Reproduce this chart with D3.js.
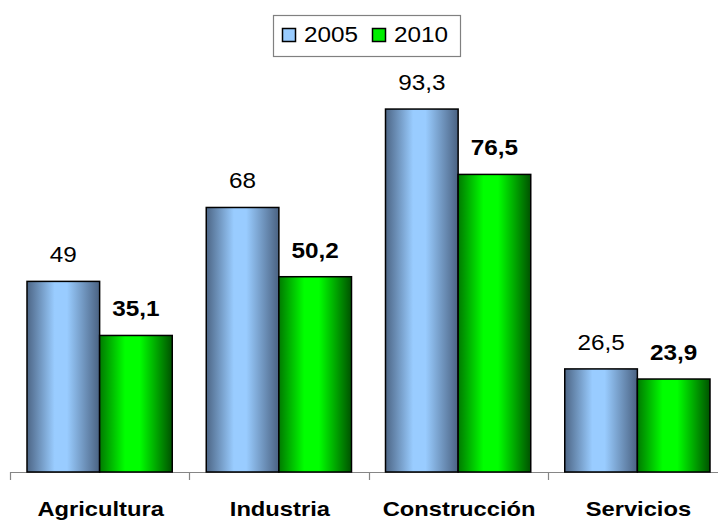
<!DOCTYPE html>
<html lang="es">
  <head>
    <meta charset="utf-8">
    <script src="https://cdn.jsdelivr.net/npm/d3@7"></script>
    <style>
      body { margin: 0; background: #fff; }
      svg { display: block; }
      text { font-family: "Liberation Sans", Arial, sans-serif; fill: #000; }
    </style>
  </head>
  <body>
    <svg id="chart"></svg>
  </body>
  <script>
    var categories = ["Agricultura", "Industria", "Construcción", "Servicios"];
    var series = ["2005", "2010"];
    var values2005 = [49, 68, 93.3, 26.5];
    var values2010 = [35.1, 50.2, 76.5, 23.9];
    var labels2005 = ["49", "68", "93,3", "26,5"];
    var labels2010 = ["35,1", "50,2", "76,5", "23,9"];

    var width = 718, height = 521;
    var stretch = 1.13; // text in the picture is a bit wider than it is tall

    var svg = d3.select("#chart").attr("width", width).attr("height", height);

    // gradients
    var defs = svg.append("defs");
    var grads = [
      {id: "g2005", stops: [[0, "#4d6686"], [0.38, "#99ccff"], [0.55, "#99ccff"], [1, "#4a6282"]]},
      {id: "g2010", stops: [[0, "#007a00"], [0.35, "#00ff00"], [0.55, "#00ff00"], [1, "#005200"]]}
    ];
    grads.forEach(function(g) {
      var lg = defs.append("linearGradient").attr("id", g.id)
        .attr("x1", "0%").attr("x2", "100%").attr("y1", "0%").attr("y2", "0%");
      g.stops.forEach(function(s) {
        lg.append("stop").attr("offset", s[0]).attr("stop-color", s[1]);
      });
    });

    var x0 = d3.scaleBand().domain(categories).range([10, 727]).padding(0);
    var gap = 17;
    var x1 = d3.scaleBand().domain(series).range([gap, x0.bandwidth() - gap]).padding(0);
    var y = d3.scaleLinear().domain([0, 100]).range([472, 83]);

    var rows = categories.map(function(c, i) {
      return [
        {cat: c, s: "2005", v: values2005[i], label: labels2005[i], fill: "url(#g2005)", bold: false},
        {cat: c, s: "2010", v: values2010[i], label: labels2010[i], fill: "url(#g2010)", bold: true}
      ];
    });
    var bars = [].concat.apply([], rows);

    // axis
    var axis = svg.append("g").attr("stroke", "#868686").attr("stroke-width", 1.2);
    axis.append("line").attr("x1", 10).attr("x2", width).attr("y1", y(0) + 0.5).attr("y2", y(0) + 0.5);
    var tickPos = categories.map(function(c) { return x0(c); });
    axis.selectAll("line.tick").data(tickPos).enter()
      .append("line").attr("class", "tick")
      .attr("x1", function(d) { return Math.round(d) + 0.5; })
      .attr("x2", function(d) { return Math.round(d) + 0.5; })
      .attr("y1", y(0)).attr("y2", y(0) + 8);

    // bars
    svg.selectAll("rect.bar").data(bars).enter()
      .append("rect").attr("class", "bar")
      .attr("x", function(d) { return x0(d.cat) + x1(d.s); })
      .attr("y", function(d) { return y(d.v); })
      .attr("width", x1.bandwidth())
      .attr("height", function(d) { return y(0) - y(d.v); })
      .attr("fill", function(d) { return d.fill; })
      .attr("stroke", "#000")
      .attr("stroke-width", 1.5);

    // value labels
    svg.selectAll("text.val").data(bars).enter()
      .append("text").attr("class", "val")
      .attr("transform", function(d) {
        return "translate(" + (x0(d.cat) + x1(d.s) + x1.bandwidth() / 2) + "," + (y(d.v) - 19) + ") scale(" + stretch + ",1)";
      })
      .attr("text-anchor", "middle")
      .style("font-size", "21.5px")
      .style("font-weight", function(d) { return d.bold ? "bold" : "normal"; })
      .text(function(d) { return d.label; });

    // category labels
    svg.selectAll("text.cat").data(categories).enter()
      .append("text").attr("class", "cat")
      .attr("transform", function(d) {
        return "translate(" + (x0(d) + x0.bandwidth() / 2 + 1) + ",516) scale(" + stretch + ",1)";
      })
      .attr("text-anchor", "middle")
      .style("font-size", "21px")
      .style("font-weight", "bold")
      .text(function(d) { return d; });

    // legend
    var legend = svg.append("g");
    legend.append("rect").attr("x", 273.5).attr("y", 15.5).attr("width", 187).attr("height", 41)
      .attr("fill", "#fff").attr("stroke", "#808080").attr("stroke-width", 1.2);
    var items = [
      {name: series[0], x: 282},
      {name: series[1], x: 372}
    ];
    var li = legend.selectAll("g.item").data(items).enter().append("g").attr("class", "item");
    li.append("rect")
      .attr("x", function(d) { return d.x + 0.5; }).attr("y", 28.5)
      .attr("width", 13).attr("height", 13)
      .attr("fill", function(d) { return d.name === "2005" ? "#99ccff" : "#00ee00"; })
      .attr("stroke", "#000").attr("stroke-width", 1.5);
    li.append("text")
      .attr("transform", function(d) { return "translate(" + (d.x + 22) + ",42) scale(" + stretch + ",1)"; })
      .style("font-size", "21.5px")
      .text(function(d) { return d.name; });
  </script>
</html>
